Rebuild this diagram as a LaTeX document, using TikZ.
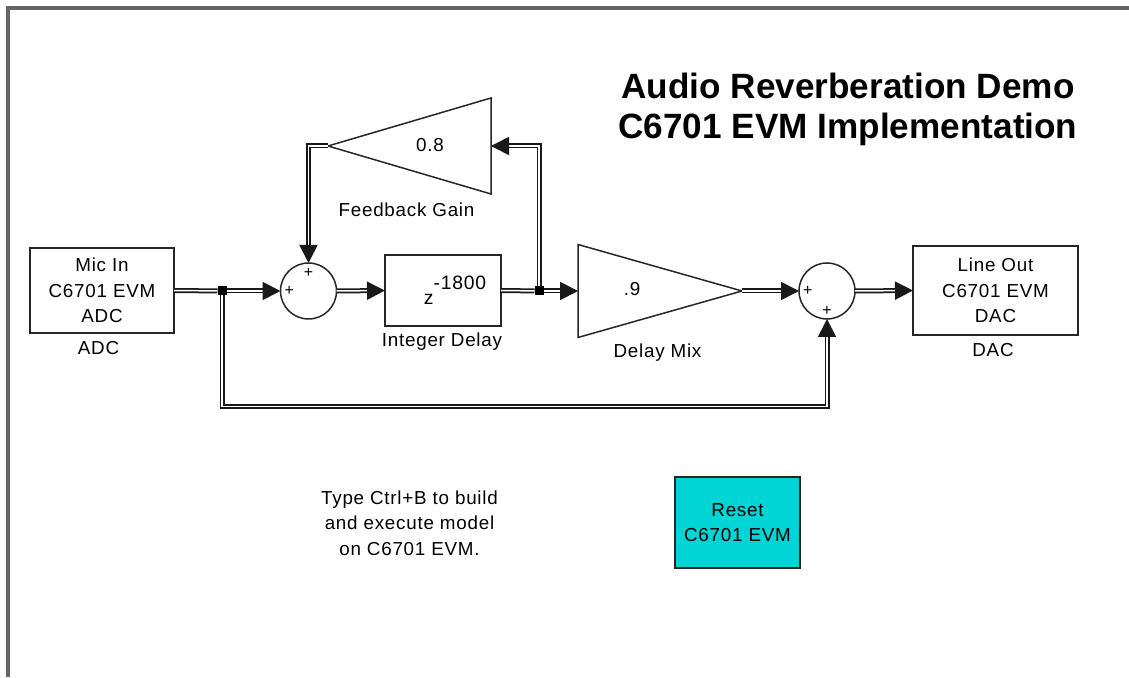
\documentclass[tikz,border=0pt]{standalone}
\usepackage{fontspec}
\usetikzlibrary{positioning,arrows.meta,shapes.geometric}
\setmainfont{Liberation Sans}
\newfontfamily\labelfont[LetterSpace=4]{Liberation Sans}
\definecolor{framegrey}{HTML}{666666}
\definecolor{resetcyan}{HTML}{00D4D4}
\tikzset{
	block/.style={draw=black!85, line width=0.04cm, inner sep=0, outer sep=0, align=center, font=\labelfont\fontsize{10.7}{14.4}\selectfont},
	caption/.style={inner sep=0, outer sep=0, align=center, font=\labelfont\fontsize{10.7}{14.4}\selectfont},
	adder/.style={circle, draw=black!85, line width=0.03cm, minimum size=1.12cm, inner sep=0, outer sep=0},
	gain/.style={isosceles triangle, isosceles triangle stretches, draw=black!85, line width=0.03cm, inner sep=0, outer sep=0},
	dot/.style={fill=black, minimum size=0.18cm, inner sep=0, outer sep=0},
	plus/.style={inner sep=0, outer sep=0, font=\fontsize{9}{9}\selectfont},
	wire/.style={draw=black!90, double=white, line width=0.035cm, double distance=0.03cm, -{Triangle[length=0.36cm, width=0.36cm]}},
	plainwire/.style={wire, -}
}

\begin{document}
\begin{tikzpicture}
	\useasboundingbox (0,0) rectangle (22.58,13.54);
	\draw[framegrey, line width=0.08cm] (0.16,0) -- (0.16,13.38) -- (22.58,13.38);
	
	\node[block, minimum width=2.88cm, minimum height=1.70cm] (adc) at (2.04,7.73) {Mic In\\C6701 EVM\\ADC};
	\node[adder] (sum1) at (6.17,7.72) {};
	\node[block, minimum width=2.32cm, minimum height=1.42cm] (delay) at (8.86,7.73) {};
	\node[gain, shape border rotate=180, anchor=apex, minimum width=1.92cm, minimum height=3.26cm] (fbgain) at (6.56,10.62) {};
	\node[gain, anchor=apex, minimum width=1.86cm, minimum height=3.28cm] (mix) at (14.84,7.72) {};
	\node[adder] (sum2) at (16.54,7.72) {};
	\node[block, minimum width=3.30cm, minimum height=1.78cm] (dac) at (19.91,7.73) {Line Out\\C6701 EVM\\DAC};
	\node[block, fill=resetcyan, minimum width=2.50cm, minimum height=1.82cm] (reset) at (14.75,3.09) {Reset\\C6701 EVM};
	
	\node[dot] (j1) at (4.44,7.72) {};
	\node[dot] (j2) at (10.78,7.72) {};
	\coordinate (low) at (16.54,5.41);
	
	\node[plus, below=0.1cm of sum1.north] (p1) {+};
	\node[plus, right=0.08cm of sum1.west] (p2) {+};
	\node[plus, right=0.08cm of sum2.west] (p3) {+};
	\node[plus, above=0.06cm of sum2.south] (p4) {+};
	
	\node[caption] (adclabel) at (1.97,6.58) {ADC};
	\node[caption] (fblabel) at (8.13,9.34) {Feedback Gain};
	\node[caption] (delaylabel) at (8.84,6.70) {Integer Delay};
	\node[caption] (mixlabel) at (13.15,6.48) {Delay Mix};
	\node[caption] (daclabel) at (19.86,6.54) {DAC};
	\node[caption] (fbvalue) at (8.60,10.64) {0.8};
	\node[caption] (mixvalue) at (12.64,7.76) {.9};
	\node[caption, font=\labelfont\fontsize{11}{14}\selectfont] (delayvalue) at (9.10,7.74) {z\raisebox{8.5pt}{-1800}};
	\node[caption] (note) at (8.19,3.08) {Type Ctrl+B to build\\and execute model\\on C6701 EVM.};
	\node[align=center, inner sep=0, font=\bfseries\fontsize{20}{22.7}\selectfont] (title) at (16.96,11.36) {Audio Reverberation Demo\\C6701 EVM Implementation};
	
	\draw[plainwire] (adc.east) -- (j1);
	\draw[wire] (j1) -- (sum1.west);
	\draw[wire] (sum1.east) -- (delay.west);
	\draw[plainwire] (delay.east) -- (j2);
	\draw[wire] (j2) -- (mix.lower side);
	\draw[wire] (j2) |- (fbgain.lower side);
	\draw[wire] (fbgain.apex) -| (sum1.north);
	\draw[wire] (mix.apex) -- (sum2.west);
	\draw[wire] (sum2.east) -- (dac.west);
	\draw[wire] (j1) |- (low) -- (sum2.south);
\end{tikzpicture}
\end{document}
